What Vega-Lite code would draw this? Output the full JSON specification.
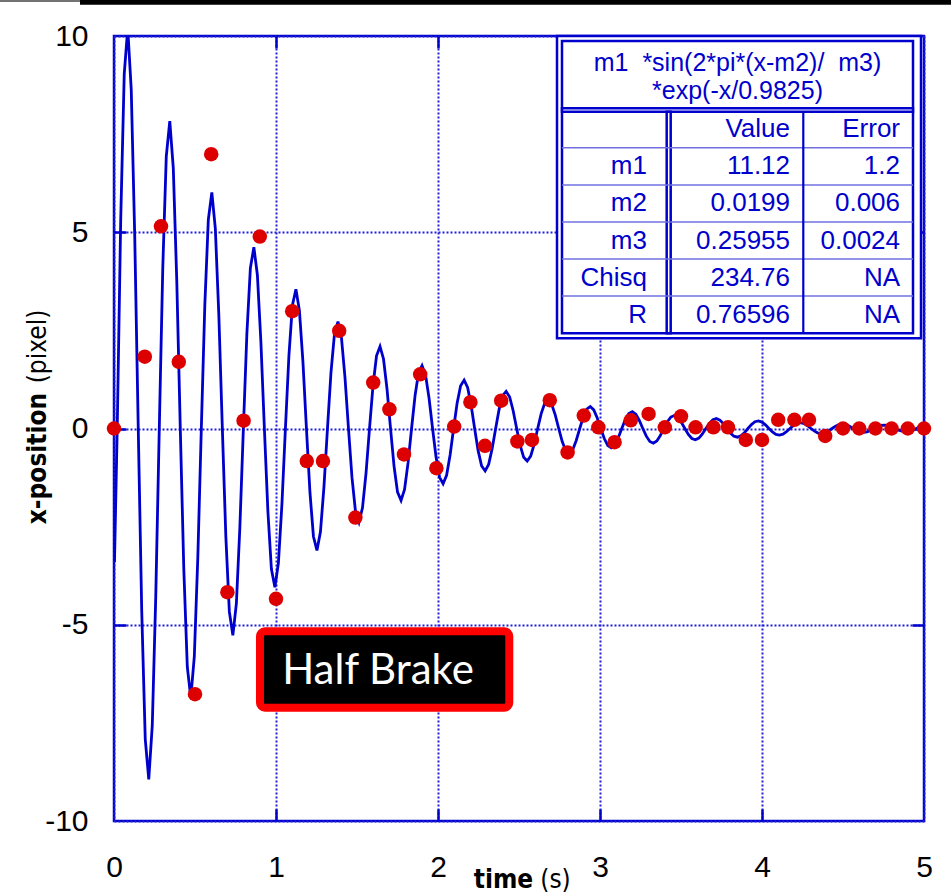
{
"$schema": "https://vega.github.io/schema/vega-lite/v6.json",
"width": 810, "height": 785,
"autosize": "none",
"padding": {"left": 114, "top": 36, "right": 27, "bottom": 72},
"background": "white",
"config": {"view": {"stroke": "#0000cc", "strokeWidth": 2.5}, "axis": {"domain": false}},
"datasets": {
"fit": [
{"t":0.003,"y":-3.4},
{"t":0.0199,"y":0},{"t":0.0415,"y":5.33},{"t":0.0632,"y":9.031},{"t":0.0848,"y":10.201},{"t":0.1064,"y":8.642},{"t":0.1281,"y":4.881},{"t":0.1497,"y":0},{"t":0.1713,"y":-4.67},{"t":0.1929,"y":-7.913},{"t":0.2146,"y":-8.938},{"t":0.2362,"y":-7.572},{"t":0.2578,"y":-4.277},
{"t":0.2795,"y":0},{"t":0.3011,"y":4.093},{"t":0.3227,"y":6.934},{"t":0.3443,"y":7.832},{"t":0.366,"y":6.635},{"t":0.3876,"y":3.748},{"t":0.4092,"y":0},{"t":0.4309,"y":-3.586},{"t":0.4525,"y":-6.076},{"t":0.4741,"y":-6.863},{"t":0.4957,"y":-5.814},{"t":0.5174,"y":-3.284},
{"t":0.539,"y":0},{"t":0.5606,"y":3.142},{"t":0.5823,"y":5.324},{"t":0.6039,"y":6.014},{"t":0.6255,"y":5.095},{"t":0.6472,"y":2.878},{"t":0.6688,"y":0},{"t":0.6904,"y":-2.754},{"t":0.712,"y":-4.666},{"t":0.7337,"y":-5.27},{"t":0.7553,"y":-4.465},{"t":0.7769,"y":-2.522},
{"t":0.7986,"y":0},{"t":0.8202,"y":2.413},{"t":0.8418,"y":4.088},{"t":0.8634,"y":4.618},{"t":0.8851,"y":3.912},{"t":0.9067,"y":2.21},{"t":0.9283,"y":0},{"t":0.95,"y":-2.114},{"t":0.9716,"y":-3.582},{"t":0.9932,"y":-4.047},{"t":1.0148,"y":-3.428},{"t":1.0365,"y":-1.936},
{"t":1.0581,"y":0},{"t":1.0797,"y":1.853},{"t":1.1014,"y":3.139},{"t":1.123,"y":3.546},{"t":1.1446,"y":3.004},{"t":1.1663,"y":1.697},{"t":1.1879,"y":0},{"t":1.2095,"y":-1.623},{"t":1.2311,"y":-2.751},{"t":1.2528,"y":-3.107},{"t":1.2744,"y":-2.632},{"t":1.296,"y":-1.487},
{"t":1.3177,"y":0},{"t":1.3393,"y":1.423},{"t":1.3609,"y":2.41},{"t":1.3825,"y":2.723},{"t":1.4042,"y":2.307},{"t":1.4258,"y":1.303},{"t":1.4474,"y":0},{"t":1.469,"y":-1.247},{"t":1.4907,"y":-2.112},{"t":1.5123,"y":-2.386},{"t":1.5339,"y":-2.021},{"t":1.5556,"y":-1.142},
{"t":1.5772,"y":0},{"t":1.5988,"y":1.092},{"t":1.6205,"y":1.851},{"t":1.6421,"y":2.091},{"t":1.6637,"y":1.771},{"t":1.6854,"y":1.0},{"t":1.707,"y":0},{"t":1.7286,"y":-0.957},{"t":1.7502,"y":-1.622},{"t":1.7719,"y":-1.832},{"t":1.7935,"y":-1.552},{"t":1.8151,"y":-0.877},
{"t":1.8368,"y":0},{"t":1.8584,"y":0.839},{"t":1.88,"y":1.421},{"t":1.9016,"y":1.605},{"t":1.9233,"y":1.36},{"t":1.9449,"y":0.768},{"t":1.9665,"y":0},{"t":1.9882,"y":-0.735},{"t":2.0098,"y":-1.245},{"t":2.0314,"y":-1.407},{"t":2.053,"y":-1.192},{"t":2.0747,"y":-0.673},
{"t":2.0963,"y":0},{"t":2.1179,"y":0.644},{"t":2.1396,"y":1.091},{"t":2.1612,"y":1.233},{"t":2.1828,"y":1.044},{"t":2.2045,"y":0.59},{"t":2.2261,"y":0},{"t":2.2477,"y":-0.564},{"t":2.2693,"y":-0.956},{"t":2.291,"y":-1.08},{"t":2.3126,"y":-0.915},{"t":2.3342,"y":-0.517},
{"t":2.3559,"y":0},{"t":2.3775,"y":0.495},{"t":2.3991,"y":0.838},{"t":2.4207,"y":0.946},{"t":2.4424,"y":0.802},{"t":2.464,"y":0.453},{"t":2.4856,"y":0},{"t":2.5073,"y":-0.433},{"t":2.5289,"y":-0.734},{"t":2.5505,"y":-0.829},{"t":2.5721,"y":-0.703},{"t":2.5938,"y":-0.397},
{"t":2.6154,"y":0},{"t":2.637,"y":0.38},{"t":2.6587,"y":0.643},{"t":2.6803,"y":0.727},{"t":2.7019,"y":0.616},{"t":2.7236,"y":0.348},{"t":2.7452,"y":0},{"t":2.7668,"y":-0.333},{"t":2.7884,"y":-0.564},{"t":2.8101,"y":-0.637},{"t":2.8317,"y":-0.539},{"t":2.8533,"y":-0.305},
{"t":2.875,"y":0},{"t":2.8966,"y":0.292},{"t":2.9182,"y":0.494},{"t":2.9398,"y":0.558},{"t":2.9615,"y":0.473},{"t":2.9831,"y":0.267},{"t":3.0047,"y":0},{"t":3.0264,"y":-0.255},{"t":3.048,"y":-0.433},{"t":3.0696,"y":-0.489},{"t":3.0912,"y":-0.414},{"t":3.1129,"y":-0.234},
{"t":3.1345,"y":0},{"t":3.1561,"y":0.224},{"t":3.1778,"y":0.379},{"t":3.1994,"y":0.428},{"t":3.221,"y":0.363},{"t":3.2427,"y":0.205},{"t":3.2643,"y":0},{"t":3.2859,"y":-0.196},{"t":3.3075,"y":-0.332},{"t":3.3292,"y":-0.375},{"t":3.3508,"y":-0.318},{"t":3.3724,"y":-0.18},
{"t":3.3941,"y":0},{"t":3.4157,"y":0.172},{"t":3.4373,"y":0.291},{"t":3.4589,"y":0.329},{"t":3.4806,"y":0.279},{"t":3.5022,"y":0.157},{"t":3.5238,"y":0},{"t":3.5455,"y":-0.151},{"t":3.5671,"y":-0.255},{"t":3.5887,"y":-0.288},{"t":3.6103,"y":-0.244},{"t":3.632,"y":-0.138},
{"t":3.6536,"y":0},{"t":3.6752,"y":0.132},{"t":3.6969,"y":0.224},{"t":3.7185,"y":0.253},{"t":3.7401,"y":0.214},{"t":3.7618,"y":0.121},{"t":3.7834,"y":0},{"t":3.805,"y":-0.116},{"t":3.8266,"y":-0.196},{"t":3.8483,"y":-0.221},{"t":3.8699,"y":-0.188},{"t":3.8915,"y":-0.106},
{"t":3.9132,"y":0},{"t":3.9348,"y":0.101},{"t":3.9564,"y":0.172},{"t":3.978,"y":0.194},{"t":3.9997,"y":0.164},{"t":4.0213,"y":0.093},{"t":4.0429,"y":0},{"t":4.0646,"y":-0.089},{"t":4.0862,"y":-0.15},{"t":4.1078,"y":-0.17},{"t":4.1294,"y":-0.144},{"t":4.1511,"y":-0.081},
{"t":4.1727,"y":0},{"t":4.1943,"y":0.078},{"t":4.216,"y":0.132},{"t":4.2376,"y":0.149},{"t":4.2592,"y":0.126},{"t":4.2809,"y":0.071},{"t":4.3025,"y":0},{"t":4.3241,"y":-0.068},{"t":4.3457,"y":-0.116},{"t":4.3674,"y":-0.131},{"t":4.389,"y":-0.111},{"t":4.4106,"y":-0.062},
{"t":4.4323,"y":0},{"t":4.4539,"y":0.06},{"t":4.4755,"y":0.101},{"t":4.4971,"y":0.114},{"t":4.5188,"y":0.097},{"t":4.5404,"y":0.055},{"t":4.562,"y":0},{"t":4.5837,"y":-0.052},{"t":4.6053,"y":-0.089},{"t":4.6269,"y":-0.1},{"t":4.6485,"y":-0.085},{"t":4.6702,"y":-0.048},
{"t":4.6918,"y":0},{"t":4.7134,"y":0.046},{"t":4.7351,"y":0.078},{"t":4.7567,"y":0.088},{"t":4.7783,"y":0.074},{"t":4.8,"y":0.042},{"t":4.8216,"y":0},{"t":4.8432,"y":-0.04},{"t":4.8648,"y":-0.068},{"t":4.8865,"y":-0.077},{"t":4.9081,"y":-0.065},{"t":4.9297,"y":-0.037},
{"t":4.9514,"y":0},{"t":4.973,"y":0.035},{"t":4.9946,"y":0.06},{"t":5.0162,"y":0.067}
],
"obs": [
{"t":0,"y":0},{"t":0.19,"y":1.83},{"t":0.29,"y":5.15},{"t":0.4,"y":1.7},{"t":0.5,"y":-6.77},{"t":0.6,"y":6.99},{"t":0.7,"y":-4.17},{"t":0.8,"y":0.2},{"t":0.9,"y":4.89},{"t":1.0,"y":-4.34},
{"t":1.1,"y":2.99},{"t":1.19,"y":-0.83},{"t":1.29,"y":-0.83},{"t":1.39,"y":2.49},{"t":1.49,"y":-2.27},{"t":1.6,"y":1.17},{"t":1.7,"y":0.49},{"t":1.79,"y":-0.66},{"t":1.89,"y":1.38},{"t":1.99,"y":-1.01},
{"t":2.1,"y":0.05},{"t":2.2,"y":0.67},{"t":2.29,"y":-0.44},{"t":2.39,"y":0.71},{"t":2.49,"y":-0.33},{"t":2.58,"y":-0.29},{"t":2.69,"y":0.72},{"t":2.8,"y":-0.61},{"t":2.9,"y":0.33},{"t":2.99,"y":0.03},
{"t":3.09,"y":-0.35},{"t":3.19,"y":0.21},{"t":3.3,"y":0.37},{"t":3.4,"y":0.03},{"t":3.5,"y":0.31},{"t":3.59,"y":0.03},{"t":3.7,"y":0.03},{"t":3.79,"y":0.03},{"t":3.9,"y":-0.29},{"t":4.0,"y":-0.29},
{"t":4.1,"y":0.22},{"t":4.2,"y":0.22},{"t":4.29,"y":0.22},{"t":4.39,"y":-0.19},{"t":4.5,"y":0},{"t":4.6,"y":0},{"t":4.7,"y":0},{"t":4.8,"y":0},{"t":4.9,"y":0},{"t":5.0,"y":0}
],
"cells": [
{"r":0,"label":"","value":"Value","error":"Error"},
{"r":1,"label":"m1","value":"11.12","error":"1.2"},
{"r":2,"label":"m2","value":"0.0199","error":"0.006"},
{"r":3,"label":"m3","value":"0.25955","error":"0.0024"},
{"r":4,"label":"Chisq","value":"234.76","error":"NA"},
{"r":5,"label":"R","value":"0.76596","error":"NA"}
],
"formula": [{"text":"m1\u00a0 *sin(2*pi*(x-m2)/\u00a0 m3)\n*exp(-x/0.9825)"}],
"note": [{"label":"Half Brake"}]
},
"layer": [
{
"data": {"name": "fit"},
"mark": {"type": "line", "color": "#0000cc", "strokeWidth": 2.8, "clip": true},
"encoding": {
"x": {"field": "t", "type": "quantitative", "scale": {"domain": [0, 5], "nice": false, "zero": false},
"axis": {"orient": "bottom", "values": [0, 1, 2, 3, 4, 5], "grid": true, "gridColor": "#2020d8", "gridDash": [2, 2], "gridWidth": 2, "ticks": false, "domain": false,
"labelFont": "Liberation Sans", "labelFontSize": 30, "labelColor": "#000000", "labelPadding": 31, "labelFlush": false, "labelOverlap": false, "labelExpr": "'' + datum.value",
"title": "time", "titleFont": "Liberation Sans Narrow, DejaVu Sans Condensed, sans-serif", "titleFontSize": 26, "titleFontWeight": "bold", "titleColor": "#000000",
"titleX": 389, "titleY": 66, "titleAlign": "center", "titleBaseline": "alphabetic"}},
"y": {"field": "y", "type": "quantitative", "scale": {"domain": [-10, 10], "nice": false, "zero": false},
"axis": {"orient": "left", "values": [-10, -5, 0, 5, 10], "grid": true, "gridColor": "#2020d8", "gridDash": [2, 2], "gridWidth": 2, "ticks": false, "domain": false,
"labelFont": "Liberation Sans", "labelFontSize": 30, "labelColor": "#000000", "labelPadding": 26, "labelFlush": false, "labelOverlap": false, "labelExpr": "'' + datum.value",
"title": "x-position", "titleFont": "Liberation Sans Narrow, DejaVu Sans Condensed, sans-serif", "titleFontSize": 26, "titleFontWeight": "bold", "titleColor": "#000000",
"titleAngle": 270, "titleX": -69, "titleY": 422, "titleAlign": "center", "titleBaseline": "alphabetic"}}
}
},
{
"data": {"name": "obs"},
"mark": {"type": "circle", "size": 210, "color": "#dd0000", "opacity": 1},
"encoding": {
"x": {"field": "t", "type": "quantitative", "scale": {"domain": [0, 5], "nice": false, "zero": false},
"axis": {"orient": "top", "values": [1, 2, 3, 4], "labels": false, "ticks": true, "tickSize": -12, "tickColor": "#0000cc", "tickWidth": 2.5, "grid": false, "domain": false, "title": null}},
"y": {"field": "y", "type": "quantitative", "scale": {"domain": [-10, 10], "nice": false, "zero": false},
"axis": {"orient": "right", "values": [-5, 0, 5], "labels": false, "ticks": true, "tickSize": -12, "tickColor": "#0000cc", "tickWidth": 2.5, "grid": false, "domain": false, "title": null}}
}
},
{
"data": {"name": "note"},
"mark": {"type": "rect", "fill": "#000000", "stroke": "#ff0000", "strokeWidth": 8, "cornerRadius": 5},
"encoding": {
"x": {"datum": 0.901, "type": "quantitative", "scale": {"domain": [0, 5], "nice": false, "zero": false},
"axis": {"orient": "bottom", "values": [1, 2, 3, 4], "labels": false, "ticks": true, "tickSize": -12, "tickColor": "#0000cc", "tickWidth": 2.5, "grid": false, "domain": false,
"title": "(s)", "titleFont": "Liberation Sans Narrow, DejaVu Sans Condensed, sans-serif", "titleFontSize": 26, "titleFontWeight": "normal", "titleColor": "#000000",
"titleX": 441, "titleY": 66, "titleAlign": "center", "titleBaseline": "alphabetic"}},
"x2": {"datum": 2.44},
"y": {"datum": -5.167, "type": "quantitative", "scale": {"domain": [-10, 10], "nice": false, "zero": false},
"axis": {"orient": "left", "values": [-5, 0, 5], "labels": false, "ticks": true, "tickSize": -12, "tickColor": "#0000cc", "tickWidth": 2.5, "grid": false, "domain": false,
"title": "(pixel)", "titleFont": "Liberation Sans Narrow, DejaVu Sans Condensed, sans-serif", "titleFontSize": 26, "titleFontWeight": "normal", "titleColor": "#000000",
"titleAngle": 270, "titleX": -69, "titleY": 310, "titleAlign": "center", "titleBaseline": "alphabetic"}},
"y2": {"datum": -7.113}
}
},
{
"data": {"name": "note"},
"mark": {"type": "text", "color": "#ffffff", "font": "Lato", "fontSize": 42, "align": "center", "baseline": "alphabetic"},
"encoding": {
"text": {"field": "label"},
"x": {"datum": 1.63, "type": "quantitative", "scale": {"domain": [0, 5], "nice": false, "zero": false}, "axis": null},
"y": {"datum": -6.51, "type": "quantitative", "scale": {"domain": [-10, 10], "nice": false, "zero": false}, "axis": null}
}
},
{
"data": {"name": "note"},
"mark": {"type": "rect", "fill": "#ffffff", "stroke": "#0000cc", "strokeWidth": 2.5},
"encoding": {
"x": {"datum": 2.7346, "type": "quantitative", "scale": {"domain": [0, 5], "nice": false, "zero": false}, "axis": null},
"x2": {"datum": 4.9815},
"y": {"datum": -2.516, "type": "quantitative", "scale": {"domain": [18.654, -2.516], "nice": false, "zero": false}, "axis": null},
"y2": {"datum": 5.637}
}
},
{
"data": {"name": "note"},
"mark": {"type": "rect", "fill": null, "fillOpacity": 0, "stroke": "#0000cc", "strokeWidth": 2.5},
"encoding": {
"x": {"datum": 2.7654, "type": "quantitative", "scale": {"domain": [0, 5], "nice": false, "zero": false}, "axis": null},
"x2": {"datum": 4.9321},
"y": {"datum": -2.38, "type": "quantitative", "scale": {"domain": [18.654, -2.516], "nice": false, "zero": false}, "axis": null},
"y2": {"datum": 5.502}
}
},
{
"data": {"name": "note"},
"mark": {"type": "rect", "fill": "#ffffff", "stroke": "#0000cc", "strokeWidth": 2.5},
"encoding": {
"x": {"datum": 2.7654, "type": "quantitative", "scale": {"domain": [0, 5], "nice": false, "zero": false}, "axis": null},
"x2": {"datum": 4.9321},
"y": {"datum": -0.566, "type": "quantitative", "scale": {"domain": [18.654, -2.516], "nice": false, "zero": false}, "axis": null},
"y2": {"datum": -0.475}
}
},
{
"data": {"name": "note"},
"mark": {"type": "rect", "fill": "#ffffff", "stroke": "#0000cc", "strokeWidth": 2.5},
"encoding": {
"x": {"datum": 3.4117, "type": "quantitative", "scale": {"domain": [0, 5], "nice": false, "zero": false}, "axis": null},
"x2": {"datum": 3.4364},
"y": {"datum": -0.475, "type": "quantitative", "scale": {"domain": [18.654, -2.516], "nice": false, "zero": false}, "axis": null},
"y2": {"datum": 5.502}
}
},
{
"data": {"name": "cells"},
"transform": [{"filter": "datum.r < 5"}],
"mark": {"type": "rule", "color": "#7070e0", "strokeWidth": 1.5, "yOffset": 18.5},
"encoding": {
"x": {"datum": 2.7654, "type": "quantitative", "scale": {"domain": [0, 5], "nice": false, "zero": false}, "axis": null},
"x2": {"datum": 4.9321},
"y": {"field": "r", "type": "quantitative", "scale": {"domain": [18.654, -2.516], "nice": false, "zero": false}, "axis": null}
}
},
{
"data": {"name": "note"},
"mark": {"type": "rule", "color": "#0000cc", "strokeWidth": 2.2},
"encoding": {
"x": {"datum": 4.2549, "type": "quantitative", "scale": {"domain": [0, 5], "nice": false, "zero": false}, "axis": null},
"y": {"datum": -0.475, "type": "quantitative", "scale": {"domain": [18.654, -2.516], "nice": false, "zero": false}, "axis": null},
"y2": {"datum": 5.502}
}
},
{
"data": {"name": "cells"},
"mark": {"type": "text", "color": "#0000cc", "font": "Liberation Sans", "fontSize": 26, "align": "right", "baseline": "middle"},
"encoding": {
"text": {"field": "label"},
"x": {"datum": 3.29, "type": "quantitative", "scale": {"domain": [0, 5], "nice": false, "zero": false}, "axis": null},
"y": {"field": "r", "type": "quantitative", "scale": {"domain": [18.654, -2.516], "nice": false, "zero": false}, "axis": null}
}
},
{
"data": {"name": "cells"},
"mark": {"type": "text", "color": "#0000cc", "font": "Liberation Sans", "fontSize": 26, "align": "right", "baseline": "middle"},
"encoding": {
"text": {"field": "value"},
"x": {"datum": 4.173, "type": "quantitative", "scale": {"domain": [0, 5], "nice": false, "zero": false}, "axis": null},
"y": {"field": "r", "type": "quantitative", "scale": {"domain": [18.654, -2.516], "nice": false, "zero": false}, "axis": null}
}
},
{
"data": {"name": "cells"},
"mark": {"type": "text", "color": "#0000cc", "font": "Liberation Sans", "fontSize": 26, "align": "right", "baseline": "middle"},
"encoding": {
"text": {"field": "error"},
"x": {"datum": 4.852, "type": "quantitative", "scale": {"domain": [0, 5], "nice": false, "zero": false}, "axis": null},
"y": {"field": "r", "type": "quantitative", "scale": {"domain": [18.654, -2.516], "nice": false, "zero": false}, "axis": null}
}
},
{
"data": {"name": "formula"},
"mark": {"type": "text", "color": "#0000cc", "font": "Liberation Sans", "fontSize": 25, "align": "center", "baseline": "middle", "lineBreak": "\n", "lineHeight": 28},
"encoding": {
"text": {"field": "text"},
"x": {"datum": 3.849, "type": "quantitative", "scale": {"domain": [0, 5], "nice": false, "zero": false}, "axis": null},
"y": {"datum": -1.788, "type": "quantitative", "scale": {"domain": [18.654, -2.516], "nice": false, "zero": false}, "axis": null}
}
},
{
"data": {"name": "note"},
"mark": {"type": "rule", "color": "#000000", "strokeWidth": 4.7},
"encoding": {
"x": {"datum": -0.21, "type": "quantitative", "scale": {"domain": [0, 5], "nice": false, "zero": false}, "axis": null},
"x2": {"datum": 5.17},
"y": {"datum": 10.857, "type": "quantitative", "scale": {"domain": [-10, 10], "nice": false, "zero": false}, "axis": null}
}
},
{
"data": {"name": "note"},
"mark": {"type": "rule", "color": "#444444", "strokeWidth": 1.5},
"encoding": {
"x": {"datum": -0.71, "type": "quantitative", "scale": {"domain": [0, 5], "nice": false, "zero": false}, "axis": null},
"x2": {"datum": -0.21},
"y": {"datum": 10.89, "type": "quantitative", "scale": {"domain": [-10, 10], "nice": false, "zero": false}, "axis": null}
}
}
],
"resolve": {"scale": {"y": "independent"}, "axis": {"x": "independent", "y": "independent"}}
}
